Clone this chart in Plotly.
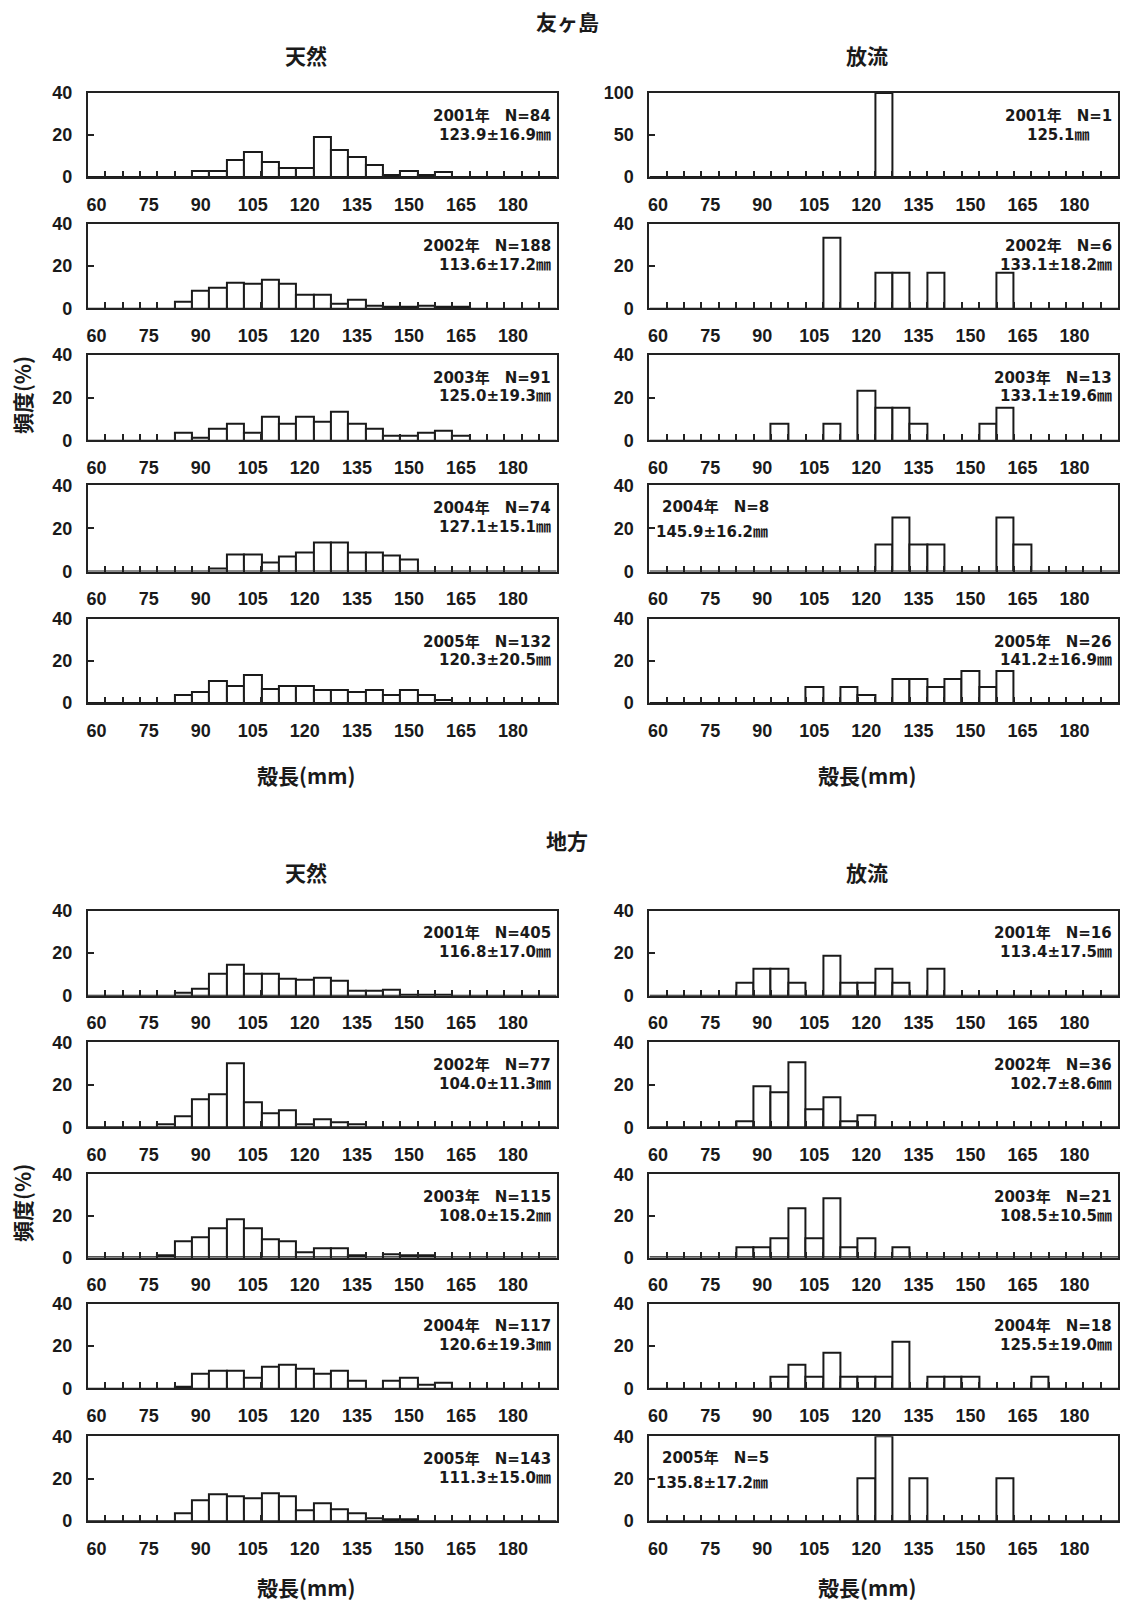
import plotly.graph_objects as go

W, H = 1121, 1606
INK = "#1a1a1a"

# shell-length classes (mm, 5 mm bins) and axis labels
length_bins = [60, 65, 70, 75, 80, 85, 90, 95, 100, 105, 110, 115, 120, 125, 130,
               135, 140, 145, 150, 155, 160, 165, 170, 175, 180, 185, 190]
tick_values = [60, 75, 90, 105, 120, 135, 150, 165, 180]
tick_labels = ["60", "75", "90", "105", "120", "135", "150", "165", "180"]
years = [2001, 2002, 2003, 2004, 2005]

# 友ヶ島 / 天然 : frequency (%)
tomo_wild_2001 = [0, 0, 0, 0, 0, 0, 2.7, 2.7, 8.0, 12.0, 7.0, 4.5, 4.5, 19.0, 13.0, 9.5, 5.5, 1.2, 3.0, 1.2, 2.4, 0, 0, 0, 0, 0, 0]
tomo_wild_2002 = [0, 0, 0, 0, 0, 3.2, 8.2, 9.9, 12.3, 11.4, 13.4, 11.4, 6.4, 6.4, 2.1, 4.0, 1.1, 0.5, 0.5, 1.1, 0.5, 0.5, 0, 0, 0, 0, 0]
tomo_wild_2003 = [0, 0, 0, 0, 0, 3.3, 1.1, 5.5, 7.7, 3.3, 11.0, 7.7, 11.0, 8.8, 13.2, 7.7, 5.5, 2.2, 2.2, 3.3, 4.4, 2.2, 0, 0, 0, 0, 0]
tomo_wild_2004 = [0, 0, 0, 0, 0, 0, 0, 1.4, 8.1, 8.1, 4.1, 6.8, 8.9, 13.5, 13.5, 9.0, 9.0, 7.5, 5.4, 0, 0, 0, 0, 0, 0, 0, 0]
tomo_wild_2005 = [0, 0, 0, 0, 0, 3.8, 5.3, 10.6, 8.3, 13.6, 6.8, 8.3, 8.3, 6.1, 6.1, 5.3, 6.1, 3.8, 6.1, 3.8, 1.5, 0, 0, 0, 0, 0, 0]

# 友ヶ島 / 放流
tomo_rel_2001 = [0, 0, 0, 0, 0, 0, 0, 0, 0, 0, 0, 0, 0, 100, 0, 0, 0, 0, 0, 0, 0, 0, 0, 0, 0, 0, 0]
tomo_rel_2002 = [0, 0, 0, 0, 0, 0, 0, 0, 0, 0, 33.3, 0, 0, 16.7, 16.7, 0, 16.7, 0, 0, 0, 16.7, 0, 0, 0, 0, 0, 0]
tomo_rel_2003 = [0, 0, 0, 0, 0, 0, 0, 7.7, 0, 0, 7.7, 0, 23.1, 15.4, 15.4, 7.7, 0, 0, 0, 7.7, 15.4, 0, 0, 0, 0, 0, 0]
tomo_rel_2004 = [0, 0, 0, 0, 0, 0, 0, 0, 0, 0, 0, 0, 0, 12.5, 25.0, 12.5, 12.5, 0, 0, 0, 25.0, 12.5, 0, 0, 0, 0, 0]
tomo_rel_2005 = [0, 0, 0, 0, 0, 0, 0, 0, 0, 7.7, 0, 7.7, 3.8, 0, 11.5, 11.5, 7.7, 11.5, 15.4, 7.7, 15.4, 0, 0, 0, 0, 0, 0]

# 地方 / 天然
jikata_wild_2001 = [0, 0, 0, 0, 0, 1.2, 3.5, 10.2, 14.4, 10.2, 10.2, 8.2, 7.4, 8.5, 7.1, 2.4, 2.4, 2.7, 0.7, 0.5, 0.5, 0, 0, 0, 0, 0, 0]
jikata_wild_2002 = [0, 0, 0, 0, 1.3, 5.2, 13.0, 15.6, 29.9, 11.7, 6.5, 7.8, 1.3, 3.9, 2.6, 1.3, 0, 0, 0, 0, 0, 0, 0, 0, 0, 0, 0]
jikata_wild_2003 = [0, 0, 0, 0, 0.9, 7.8, 9.6, 13.9, 18.3, 13.9, 8.7, 7.8, 2.6, 4.3, 4.3, 0.9, 0, 1.7, 0.9, 0.9, 0, 0, 0, 0, 0, 0, 0]
jikata_wild_2004 = [0, 0, 0, 0, 0, 0.9, 6.8, 8.5, 8.5, 5.1, 10.3, 11.1, 9.4, 6.8, 8.5, 3.4, 0, 3.4, 5.1, 1.7, 2.6, 0, 0, 0, 0, 0, 0]
jikata_wild_2005 = [0, 0, 0, 0, 0, 3.5, 9.8, 12.6, 11.9, 10.5, 13.3, 11.9, 4.9, 8.4, 5.6, 3.5, 1.4, 0.7, 0.7, 0, 0, 0, 0, 0, 0, 0, 0]

# 地方 / 放流
jikata_rel_2001 = [0, 0, 0, 0, 0, 6.25, 12.5, 12.5, 6.25, 0, 18.75, 6.25, 6.25, 12.5, 6.25, 0, 12.5, 0, 0, 0, 0, 0, 0, 0, 0, 0, 0]
jikata_rel_2002 = [0, 0, 0, 0, 0, 2.8, 19.4, 16.7, 30.6, 8.3, 13.9, 2.8, 5.6, 0, 0, 0, 0, 0, 0, 0, 0, 0, 0, 0, 0, 0, 0]
jikata_rel_2003 = [0, 0, 0, 0, 0, 4.8, 4.8, 9.5, 23.8, 9.5, 28.6, 4.8, 9.5, 0, 4.8, 0, 0, 0, 0, 0, 0, 0, 0, 0, 0, 0, 0]
jikata_rel_2004 = [0, 0, 0, 0, 0, 0, 0, 5.6, 11.1, 5.6, 16.7, 5.6, 5.6, 5.6, 22.2, 0, 5.6, 5.6, 5.6, 0, 0, 0, 5.6, 0, 0, 0, 0]
jikata_rel_2005 = [0, 0, 0, 0, 0, 0, 0, 0, 0, 0, 0, 0, 20, 40, 0, 20, 0, 0, 0, 0, 20, 0, 0, 0, 0, 0, 0]

# sample size, mean and SD of shell length
tomo_wild_n = [84, 188, 91, 74, 132]
tomo_wild_mean = [123.9, 113.6, 125.0, 127.1, 120.3]
tomo_wild_sd = [16.9, 17.2, 19.3, 15.1, 20.5]
tomo_rel_n = [1, 6, 13, 8, 26]
tomo_rel_mean = [125.1, 133.1, 133.1, 145.9, 141.2]
tomo_rel_sd = [None, 18.2, 19.6, 16.2, 16.9]
jikata_wild_n = [405, 77, 115, 117, 143]
jikata_wild_mean = [116.8, 104.0, 108.0, 120.6, 111.3]
jikata_wild_sd = [17.0, 11.3, 15.2, 19.3, 15.0]
jikata_rel_n = [16, 36, 21, 18, 5]
jikata_rel_mean = [113.4, 102.7, 108.5, 125.5, 135.8]
jikata_rel_sd = [17.5, 8.6, 10.5, 19.0, 17.2]

series = {
    ("tomo", "wild"): ([tomo_wild_2001, tomo_wild_2002, tomo_wild_2003, tomo_wild_2004, tomo_wild_2005],
                       tomo_wild_n, tomo_wild_mean, tomo_wild_sd),
    ("tomo", "rel"): ([tomo_rel_2001, tomo_rel_2002, tomo_rel_2003, tomo_rel_2004, tomo_rel_2005],
                      tomo_rel_n, tomo_rel_mean, tomo_rel_sd),
    ("jikata", "wild"): ([jikata_wild_2001, jikata_wild_2002, jikata_wild_2003, jikata_wild_2004, jikata_wild_2005],
                         jikata_wild_n, jikata_wild_mean, jikata_wild_sd),
    ("jikata", "rel"): ([jikata_rel_2001, jikata_rel_2002, jikata_rel_2003, jikata_rel_2004, jikata_rel_2005],
                        jikata_rel_n, jikata_rel_mean, jikata_rel_sd),
}

# ---- layout geometry (pixels) ----
COLS = {"wild": (87, 556), "rel": (649, 1118)}
ROW_TOPS = {"tomo": [84.1, 216.4, 349.2, 481.4, 616.6],
            "jikata": [912.0, 1045.3, 1178.9, 1310.1, 1444.2]}
ROW_BOTTOMS = {"tomo": [169.2, 302.0, 435.8, 568.6, 701.9],
               "jikata": [998.1, 1131.4, 1263.3, 1395.7, 1530.0]}
LABEL_STYLE = {("tomo", "rel", 0): "center", ("tomo", "rel", 3): "left", ("jikata", "rel", 4): "left"}

TICK_FONT = dict(family="Liberation Sans, Arial, sans-serif", size=18, color=INK, weight="bold")
ANN_FONT = dict(family="DejaVu Sans, Noto Sans CJK JP, sans-serif", size=15, color=INK, weight="bold")
TITLE_FONT = dict(family="Noto Sans CJK JP, sans-serif", size=21, color=INK, weight="bold")


def fx(x):
    return x / W


def fy(y):
    return 1 - y / H


fig = go.Figure()
layout = {}
annotations = []
minor_ticks = [b + 2.5 for b in length_bins[:-1]]

k = 0
for site in ["tomo", "jikata"]:
    for kind in ["wild", "rel"]:
        freqs, ns, means, sds = series[(site, kind)]
        x0, x1 = COLS[kind]
        for i, yr in enumerate(years):
            k += 1
            xs = "x" if k == 1 else f"x{k}"
            ys = "y" if k == 1 else f"y{k}"
            xname = "xaxis" if k == 1 else f"xaxis{k}"
            yname = "yaxis" if k == 1 else f"yaxis{k}"
            yb = ROW_BOTTOMS[site][i]
            yt = ROW_TOPS[site][i]
            ymax = 100 if max(freqs[i]) > 40 else 40

            fig.add_trace(go.Bar(
                x=length_bins, y=freqs[i], xaxis=xs, yaxis=ys,
                marker=dict(color="white", line=dict(color=INK, width=2)),
                showlegend=False, hoverinfo="skip"))

            layout[xname] = dict(
                domain=[fx(x0), fx(x1)], anchor=ys, range=[57.5, 192.5],
                tickmode="array", tickvals=tick_values, ticktext=tick_labels,
                ticks="", ticklabelstandoff=10, tickfont=TICK_FONT,
                showline=True, mirror=True, linecolor="#222", linewidth=2,
                showgrid=False, zeroline=False, fixedrange=True,
                minor=dict(tickmode="array", tickvals=minor_ticks, ticks="inside",
                           ticklen=6, tickwidth=2, tickcolor="#222", showgrid=False))
            layout[yname] = dict(
                domain=[fy(yb), fy(yt)], anchor=xs, range=[0, ymax],
                tickmode="array", tickvals=[0, ymax / 2, ymax],
                ticktext=[str(int(v)) for v in (0, ymax / 2, ymax)],
                ticks="inside", ticklen=6, tickwidth=2, tickcolor="#222",
                ticklabelstandoff=10, tickfont=TICK_FONT,
                showline=True, mirror=True, linecolor="#222", linewidth=2,
                showgrid=False, zeroline=False, fixedrange=True)

            line1 = f"{yr}年　N={ns[i]}"
            if sds[i] is None:
                line2 = f"{means[i]:.1f}㎜"
            else:
                line2 = f"{means[i]:.1f}±{sds[i]:.1f}㎜"
            style = LABEL_STYLE.get((site, kind, i), "right")
            if style == "right":
                pos = [(x1 - 4, yt + 23, "right", line1), (x1 - 4, yt + 42, "right", line2)]
            elif style == "center":
                pos = [(x1 - 60, yt + 23, "center", line1), (x1 - 60, yt + 42, "center", line2)]
            else:
                pos = [(x0 + 11, yt + 22, "left", line1), (x0 + 5, yt + 47, "left", line2)]
            for (px, py, anc, txt) in pos:
                annotations.append(dict(
                    x=fx(px), y=fy(py), xref="paper", yref="paper", text=txt,
                    xanchor=anc, yanchor="middle", showarrow=False, font=ANN_FONT))

# headings and axis titles
titles = [
    ("友ヶ島", 567, 11, 0), ("天然", 305, 46, 0), ("放流", 867, 46, 0),
    ("殻長(mm)", 305, 775, 0), ("殻長(mm)", 867, 775, 0), ("頻度(%)", 21, 390, -90),
    ("地方", 567, 840, 0), ("天然", 305, 873, 0), ("放流", 867, 873, 0),
    ("殻長(mm)", 305, 1597, 0), ("殻長(mm)", 867, 1597, 0), ("頻度(%)", 21, 1208, -90),
]
for txt, px, py, ang in titles:
    annotations.append(dict(
        x=fx(px), y=fy(py), xref="paper", yref="paper", text=txt, textangle=ang,
        xanchor="center", yanchor="middle", showarrow=False, font=TITLE_FONT))

fig.update_layout(**layout)
fig.update_layout(
    width=W, height=H, autosize=False,
    margin=dict(l=0, r=0, t=0, b=0),
    paper_bgcolor="white", plot_bgcolor="white",
    bargap=0, annotations=annotations)

fig.write_html("out.html")
